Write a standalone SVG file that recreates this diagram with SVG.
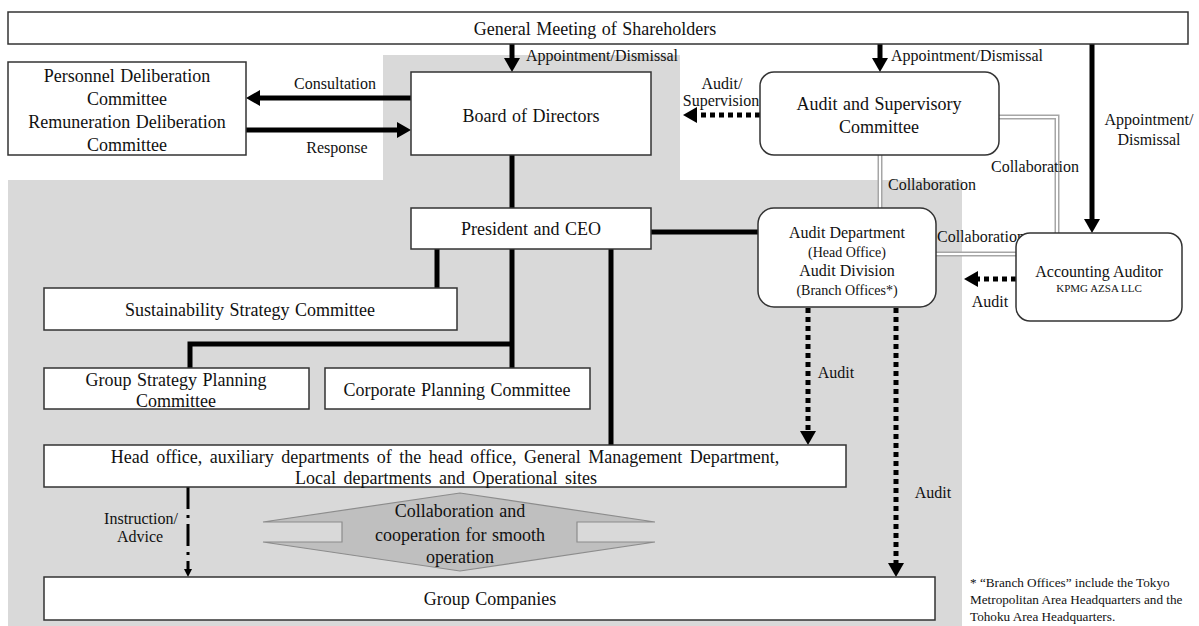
<svg xmlns="http://www.w3.org/2000/svg" width="1199" height="626" viewBox="0 0 1199 626">
<style>
  .box{fill:#fff;stroke:#333;stroke-width:1.5}
  .t{font-family:"Liberation Serif","Times New Roman",serif;font-size:18px;fill:#111;text-anchor:middle;word-spacing:1px}
  .l{font-family:"Liberation Serif","Times New Roman",serif;font-size:16px;fill:#111;text-anchor:middle}
  .s{font-family:"Liberation Serif","Times New Roman",serif;font-size:14px;fill:#111;text-anchor:middle}
  .xs{font-family:"Liberation Serif","Times New Roman",serif;font-size:11px;fill:#111}
  .fn{font-family:"Liberation Serif","Times New Roman",serif;font-size:13.2px;fill:#111}
  .thick{fill:none;stroke:#000;stroke-width:5}
  .dot{fill:none;stroke:#000;stroke-width:5;stroke-dasharray:5 4}
  .dd{fill:none;stroke:#000;stroke-width:3;stroke-dasharray:22 6 3 6}
  .dbl-o{fill:none;stroke:#a6a6a6;stroke-width:5}
  .dbl-i{fill:none;stroke:#fff;stroke-width:2}
</style>
<defs>
  <marker id="ah" viewBox="0 0 14 16" refX="0" refY="8" markerWidth="14" markerHeight="16" markerUnits="userSpaceOnUse" orient="auto">
    <path d="M0,0 L14,8 L0,16 z" fill="#000"/>
  </marker>
  <marker id="ahs" viewBox="0 0 8 8" refX="0" refY="4" markerWidth="8" markerHeight="8" markerUnits="userSpaceOnUse" orient="auto">
    <path d="M0,0 L8,4 L0,8 z" fill="#000"/>
  </marker>
</defs>
<rect x="0" y="0" width="1199" height="626" fill="#fff"/>
<g id="background">
  <rect x="383" y="55" width="297" height="126" fill="#d9d9d9"/>
  <rect x="8" y="180" width="954" height="446" fill="#d9d9d9"/>
</g>

<g id="connectors">
  <path class="thick" d="M512,155 V208"/>
  <path class="thick" d="M651,232 H758"/>
  <path class="thick" d="M437,249 V288"/>
  <path class="thick" d="M512,249 V368"/>
  <path class="thick" d="M512,344 H190 V368"/>
  <path class="thick" d="M611,249 V445"/>
  <path class="thick" d="M512,44 V58" marker-end="url(#ah)"/>
  <path class="thick" d="M880,44 V58" marker-end="url(#ah)"/>
  <path class="thick" d="M1092,44 V219" marker-end="url(#ah)"/>
  <path class="thick" d="M411,98 H260" marker-end="url(#ah)"/>
  <path class="thick" d="M246,130 H397" marker-end="url(#ah)"/>
  <path class="dot" d="M760,115 H697" marker-end="url(#ah)"/>
  <path class="dot" d="M1016,279 H978" marker-end="url(#ah)"/>
  <path class="dot" d="M808,308 V431" marker-end="url(#ah)"/>
  <path class="dot" d="M896,308 V563" marker-end="url(#ah)"/>
  <path class="dd" d="M188,487 V569" marker-end="url(#ahs)"/>
  <path class="dbl-o" d="M880,155 V208"/>
  <path class="dbl-i" d="M880,155 V208"/>
  <path class="dbl-o" d="M999,117 H1057 V233"/>
  <path class="dbl-i" d="M999,117 H1057 V233"/>
  <path class="dbl-o" d="M936,254 H1016"/>
  <path class="dbl-i" d="M936,254 H1016"/>
  <text class="l" x="602" y="61">Appointment/Dismissal</text>
  <text class="l" x="967" y="61">Appointment/Dismissal</text>
  <text class="l" x="1149" y="125">Appointment/</text>
  <text class="l" x="1149" y="145">Dismissal</text>
  <text class="l" x="335" y="89">Consultation</text>
  <text class="l" x="337" y="153">Response</text>
  <text class="l" x="722" y="89">Audit/</text>
  <text class="l" x="721" y="106">Supervision</text>
  <text class="l" x="932" y="190">Collaboration</text>
  <text class="l" x="1035" y="172">Collaboration</text>
  <text class="l" x="981" y="242">Collaboration</text>
  <text class="l" x="990" y="307">Audit</text>
  <text class="l" x="836" y="378">Audit</text>
  <text class="l" x="933" y="498">Audit</text>
  <text class="l" x="141" y="524">Instruction/</text>
  <text class="l" x="140" y="542">Advice</text>
</g>

<g id="gm">
  <rect class="box" x="8" y="12" width="1180" height="32"/>
  <text class="t" x="595" y="35">General Meeting of Shareholders</text>
</g>
<g id="personnel">
  <rect class="box" x="8" y="62" width="238" height="93"/>
  <text class="t" x="127" y="82">Personnel Deliberation</text>
  <text class="t" x="127" y="105">Committee</text>
  <text class="t" x="127" y="128">Remuneration Deliberation</text>
  <text class="t" x="127" y="151">Committee</text>
</g>
<g id="board">
  <rect class="box" x="411" y="72" width="240" height="83"/>
  <text class="t" x="531" y="122">Board of Directors</text>
</g>
<g id="asc">
  <rect class="box" x="760" y="72" width="239" height="83" rx="14"/>
  <text class="t" x="879" y="110">Audit and Supervisory</text>
  <text class="t" x="879" y="133">Committee</text>
</g>
<g id="ceo">
  <rect class="box" x="411" y="208" width="240" height="41"/>
  <text class="t" x="531" y="235">President and CEO</text>
</g>
<g id="auditdept">
  <rect class="box" x="758" y="208" width="178" height="99" rx="16"/>
  <text class="l" x="847" y="238">Audit Department</text>
  <text class="s" x="847" y="257">(Head Office)</text>
  <text class="l" x="847" y="276">Audit Division</text>
  <text class="s" x="847" y="295">(Branch Offices*)</text>
</g>
<g id="accounting">
  <rect class="box" x="1016" y="233" width="166" height="88" rx="14"/>
  <text class="l" x="1099" y="277">Accounting Auditor</text>
  <text class="xs" x="1099" y="292" text-anchor="middle">KPMG AZSA LLC</text>
</g>
<g id="sustainability">
  <rect class="box" x="44" y="288" width="413" height="42"/>
  <text class="t" x="250" y="316">Sustainability Strategy Committee</text>
</g>
<g id="groupstrategy">
  <rect class="box" x="44" y="368" width="265" height="41"/>
  <text class="t" x="176" y="386">Group Strategy Planning</text>
  <text class="t" x="176" y="407">Committee</text>
</g>
<g id="corporate">
  <rect class="box" x="325" y="368" width="265" height="41"/>
  <text class="t" x="457" y="396">Corporate Planning Committee</text>
</g>
<g id="headoffice">
  <rect class="box" x="44" y="445" width="802" height="42"/>
  <text class="t" x="445" y="463" style="word-spacing:3px">Head office, auxiliary departments of the head office, General Management Department,</text>
  <text class="t" x="446" y="484" style="word-spacing:3px">Local departments and Operational sites</text>
</g>
<g id="cooperation">
  <polygon points="263,522 460,493 655,522 577,522 577,542 655,542 460,571 263,542 342,542 342,522" fill="#bfbfbf" stroke="#8c8c8c" stroke-width="1.2"/>
  <text class="t" x="460" y="517">Collaboration and</text>
  <text class="t" x="460" y="541">cooperation for smooth</text>
  <text class="t" x="460" y="563">operation</text>
</g>
<g id="groupcompanies">
  <rect class="box" x="44" y="577" width="891" height="43"/>
  <text class="t" x="490" y="605">Group Companies</text>
</g>
<g id="footnote">
  <text class="fn" x="970" y="587">* “Branch Offices” include the Tokyo</text>
  <text class="fn" x="970" y="604">Metropolitan Area Headquarters and the</text>
  <text class="fn" x="970" y="621">Tohoku Area Headquarters.</text>
</g>
</svg>
